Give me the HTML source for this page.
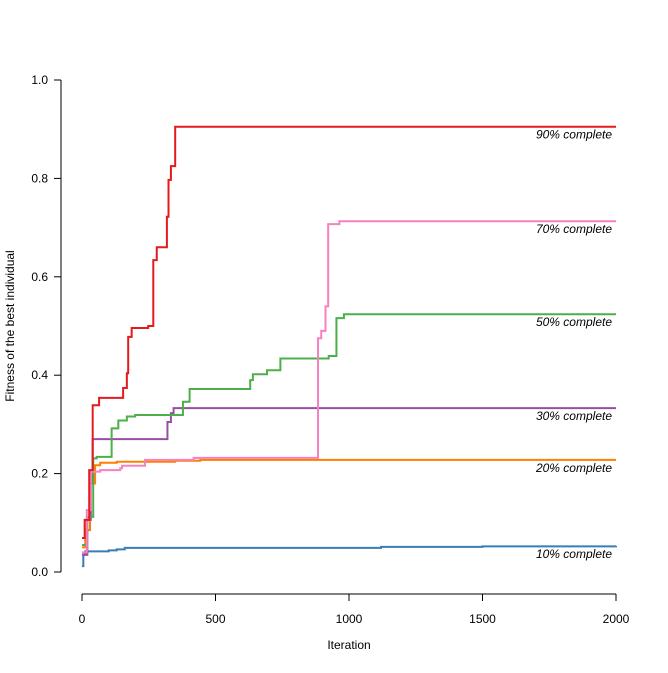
<!DOCTYPE html>
<html><head><meta charset="utf-8"><style>
body{margin:0;background:#fff}
svg{font-family:"Liberation Sans",sans-serif}
</style></head><body>
<svg id="chart" width="668" height="668" viewBox="0 0 668 668" xmlns="http://www.w3.org/2000/svg">
<g id="axes"></g><g id="series"></g><g id="labels"></g>
</svg>
<script>
const xTicks=[0,500,1000,1500,2000];
const yTicks=[0.0,0.2,0.4,0.6,0.8,1.0];
const yTickLabels=["0.0","0.2","0.4","0.6","0.8","1.0"];
const seriesNames=["10% complete","20% complete","30% complete","50% complete","70% complete","90% complete"];
const seriesColors=["#377EB8","#FF7F00","#984EA3","#4DAF4A","#F781BF","#E41A1C"];
const blueIter=[0,5,12,100,130,160,1120,1500,2000];
const blueVal=[0.012,0.035,0.042,0.044,0.046,0.049,0.051,0.052,0.053];
const orangeIter=[0,12,30,49,68,130,349,443,2000];
const orangeVal=[0.05,0.085,0.18,0.217,0.222,0.224,0.226,0.228,0.228];
const purpleIter=[0,20,33,40,320,333,343,2000];
const purpleVal=[0.035,0.106,0.18,0.27,0.305,0.323,0.333,0.333];
const greenIter=[0,18,42,55,111,136,168,199,378,403,630,640,693,743,924,953,981,2000];
const greenVal=[0.055,0.112,0.231,0.234,0.292,0.308,0.316,0.319,0.346,0.372,0.39,0.402,0.41,0.434,0.439,0.516,0.524,0.524];
const pinkIter=[0,18,33,68,143,150,236,418,884,896,912,922,964,2000];
const pinkVal=[0.04,0.126,0.204,0.207,0.211,0.216,0.228,0.232,0.475,0.49,0.54,0.707,0.713,0.713];
const redIter=[0,10,27,40,64,154,168,173,186,248,267,280,318,324,333,349,2000];
const redVal=[0.069,0.106,0.207,0.339,0.354,0.374,0.404,0.478,0.496,0.5,0.634,0.66,0.722,0.797,0.825,0.905,0.905];
const allIter=[blueIter,orangeIter,purpleIter,greenIter,pinkIter,redIter];
const allVal=[blueVal,orangeVal,purpleVal,greenVal,pinkVal,redVal];
const keys=["10","20","30","50","70","90"];

const X=v=>82+v/2000*534;
const Y=v=>572-v*492;
const NS="http://www.w3.org/2000/svg";
function mk(t,a,p){const e=document.createElementNS(NS,t);for(const k in a)e.setAttribute(k,a[k]);p.appendChild(e);return e;}
const ax=document.getElementById('axes'),se=document.getElementById('series'),lb=document.getElementById('labels');

let yl=mk('line',{x1:61,x2:61,y1:Y(1),y2:Y(0),stroke:'#000'},ax);


yTicks.forEach((t,i)=>{
  let l=mk('line',{x1:54,x2:61,y1:Y(t),y2:Y(t),stroke:'#000'},ax);
  
  
  let tx=mk('text',{x:48,y:Y(t)+4,'text-anchor':'end','font-size':12},ax);tx.textContent=yTickLabels[i];
  
  
});
let xl=mk('line',{x1:X(0),x2:X(2000),y1:594,y2:594,stroke:'#000'},ax);


xTicks.forEach(t=>{
  let l=mk('line',{x1:X(t),x2:X(t),y1:594,y2:601,stroke:'#000'},ax);
  
  
  let tx=mk('text',{x:X(t),y:623,'text-anchor':'middle','font-size':12},ax);tx.textContent=String(t);
  
  
});
let xt=mk('text',{x:349,y:649,'text-anchor':'middle','font-size':12},ax);xt.textContent='Iteration';


let yt=mk('text',{x:14,y:326,'text-anchor':'middle','font-size':12,transform:'rotate(-90 14 326)'},ax);yt.textContent='Fitness of the best individual';



allIter.forEach((its,s)=>{
  const vs=allVal[s];
  let d='M'+X(its[0])+' '+Y(vs[0]);
  for(let i=1;i<its.length;i++){d+=' H'+X(its[i])+' V'+Y(vs[i]);}
  let p=mk('path',{d:d,fill:'none',stroke:seriesColors[s],'stroke-width':2},se);
  
  
  const last=vs[vs.length-1];
  let tx=mk('text',{x:612,y:Y(last)+12,'text-anchor':'end','font-size':12,'font-style':'italic'},lb);
  tx.textContent=seriesNames[s];
  
  
});
</script>
</body></html>
